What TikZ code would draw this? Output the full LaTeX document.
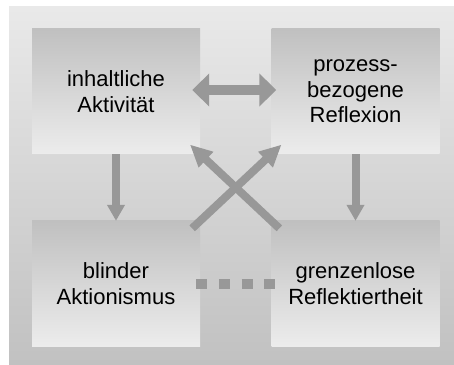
\documentclass[tikz,border=0pt]{standalone}
\usepackage{fontspec}
\setmainfont{Liberation Sans}
\usetikzlibrary{arrows.meta}
\definecolor{bgtop}{RGB}{233,233,233}
\definecolor{bgbot}{RGB}{193,193,193}
\definecolor{fieldtop}{RGB}{192,192,192}
\definecolor{fieldbot}{RGB}{236,236,236}
\definecolor{arrowgray}{RGB}{152,152,152}
\tikzstyle{field}=[inner sep=0pt, minimum width=168pt, minimum height=125pt, top color=fieldtop, bottom color=fieldbot, align=center, font=\fontsize{22}{25.5}\selectfont]
\tikzstyle{bothway}=[{Triangle[width=32pt,length=17pt]}-{Triangle[width=32pt,length=17pt]}, color=arrowgray, line width=10pt]
\tikzstyle{downarrow}=[-{Triangle[width=17pt,length=16pt]}, color=arrowgray, line width=8pt]
\tikzstyle{crossarrow}=[-{Triangle[width=20pt,length=22pt]}, color=arrowgray, line width=8pt]
\tikzstyle{squares}=[color=arrowgray, line width=10pt, dash pattern=on 11pt off 11.67pt]

\begin{document}
\begin{tikzpicture}[x=1pt,y=1pt]
        \useasboundingbox (0,0) rectangle (454,364);
        \shade[top color=bgtop, bottom color=bgbot] (9,0) rectangle (454,357);

        \node[field] (akt) at (116,272.5) {inhaltliche\\Aktivität};
        \node[field] (refl) at (355.5,272.5) {prozess-\\bezogene\\Reflexion};
        \node[field] (blind) at (116,80.5) {blinder\\Aktionismus};
        \node[field] (grenz) at (355.5,80.5) {grenzenlose\\Reflektiertheit};

        \draw[bothway, shorten <=-8pt, shorten >=-5pt] ([yshift=1.5pt]akt.east) -- ([yshift=1.5pt]refl.west);
        \draw[downarrow] (akt) -- (blind);
        \draw[downarrow] (refl) -- (grenz);
        \draw[crossarrow, shorten <=-11pt, shorten >=-14pt] (blind.north east) -- (refl.south west);
        \draw[crossarrow, shorten <=-11pt, shorten >=-14pt] (grenz.north west) -- (akt.south east);
        \draw[squares, shorten <=-4pt, shorten >=-4pt] (blind) -- (grenz);
\end{tikzpicture}
\end{document}
